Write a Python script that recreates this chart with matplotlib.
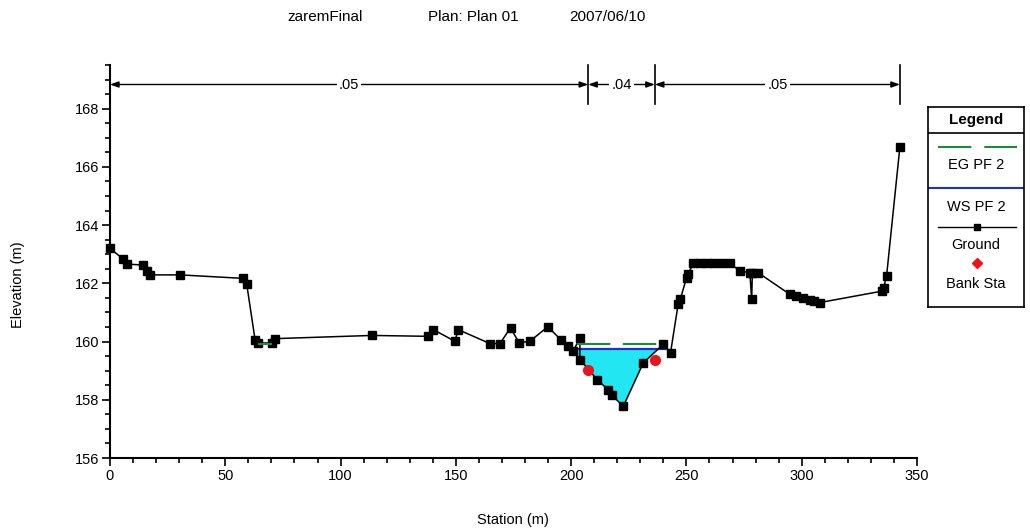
import numpy as np
import matplotlib.pyplot as plt
from matplotlib.ticker import MultipleLocator

plt.rcParams['font.family'] = ['Liberation Sans', 'DejaVu Sans']

# Ground profile (station m, elevation m)
station = [0, 5.8, 7.2, 14.4, 15.9, 17.3, 30.4, 57.8, 59.3, 62.9, 64.3, 70.1, 71.6,
           113.5, 138.0, 140.2, 149.6, 151.0, 164.8, 169.1, 173.7, 177.4, 182.1,
           189.9, 195.4, 198.7, 200.9, 203.8, 203.8, 211.3, 216.1, 217.6, 222.6,
           231.3, 239.9, 243.1, 246.4, 247.3, 250.1, 250.8, 252.9, 256.0, 259.0,
           262.0, 265.5, 268.8, 273.2, 277.5, 278.3, 278.6, 281.0, 294.9, 297.5,
           300.5, 303.5, 305.5, 307.9, 334.7, 335.5, 336.8, 342.6]
elevation = [163.2, 162.83, 162.66, 162.63, 162.42, 162.29, 162.29, 162.17, 161.97,
             160.07, 159.95, 159.95, 160.10,
             160.21, 160.18, 160.41, 160.01, 160.41, 159.93, 159.93, 160.47, 159.96,
             160.01, 160.51, 160.07, 159.84, 159.67, 160.13, 159.38, 158.69, 158.34,
             158.17, 157.77, 159.27, 159.90, 159.61, 161.28, 161.45, 162.20, 162.31,
             162.69, 162.69, 162.69, 162.69, 162.69, 162.69, 162.42, 162.37, 161.45,
             162.37, 162.37, 161.62, 161.55, 161.48, 161.42, 161.38, 161.34, 161.73,
             161.83, 162.25, 166.7]

# Bank stations
bank_sta = [207.4, 236.3]
bank_elev = [159.03, 159.36]

# Water surface / energy grade (PF 2)
ws_elev = 159.75
eg_elev = 159.93
eg_reaches = [(64.3, 70.1), (202.4, 239.6)]

# Manning's n regions
n_bounds = [0, 207.4, 236.3, 342.6]
n_values = ['.05', '.04', '.05']

station = np.array(station)
elevation = np.array(elevation)


def crossings(x, y, level):
    out = []
    for i in range(len(x) - 1):
        a, b = y[i] - level, y[i + 1] - level
        if a * b < 0:
            out.append(x[i] + (x[i + 1] - x[i]) * a / (a - b))
    return out


fig = plt.figure(figsize=(10.30, 5.31), dpi=100)
ax = fig.add_axes([110 / 1030, 1 - 458 / 531, 807 / 1030, 393 / 531])

# channel water
sel = (station > 197) & (station < 244) & (elevation < 160.0)
cs, ce = station[sel], elevation[sel]
ax.fill_between(cs, ce, ws_elev, where=ce <= ws_elev, interpolate=True,
                color='#22e6f2', lw=0, zorder=1)
cx = crossings(cs, ce, ws_elev)
ax.plot([cx[0], cx[-1]], [ws_elev, ws_elev], color='#2030c0', lw=1.6, zorder=2)
for a, b in eg_reaches:
    ax.plot([a, b], [eg_elev, eg_elev], color='#1e8a3c', lw=1.5,
            ls=(0, (16, 6)), zorder=3.5)

ax.plot(station, elevation, color='black', lw=1.1, marker='s', ms=6, zorder=3,
        clip_on=False)
ax.plot(bank_sta, bank_elev, ls='none', marker='o', ms=7, color='#e8141e', zorder=4)

ax.set_xlim(0, 350)
ax.set_ylim(156, 169.5)
ax.xaxis.set_major_locator(MultipleLocator(50))
ax.xaxis.set_minor_locator(MultipleLocator(10))
ax.yaxis.set_minor_locator(MultipleLocator(0.5))
ax.set_yticks(np.arange(156, 169, 2))
ax.tick_params(which='major', direction='out', length=6, width=1.2, labelsize=10.5, pad=2)
ax.tick_params(which='minor', direction='out', length=3.5, width=1.2)
for s in ['top', 'right']:
    ax.spines[s].set_visible(False)
for s in ['left', 'bottom']:
    ax.spines[s].set_linewidth(1.5)

# n value annotation band
ya = 168.83
for b in n_bounds:
    ax.plot([b, b], [168.15, 169.5], color='black', lw=1.2, clip_on=False)
for i, lab in enumerate(n_values):
    a, b = n_bounds[i], n_bounds[i + 1]
    ax.annotate('', xy=(a, ya), xytext=(b, ya),
                arrowprops=dict(arrowstyle='<|-|>,head_length=0.5,head_width=0.18',
                                color='black', lw=1, shrinkA=0, shrinkB=0),
                annotation_clip=False)
    ax.text((a + b) / 2, ya, lab, ha='center', va='center', fontsize=10.5,
            bbox=dict(facecolor='white', edgecolor='none', pad=1.5), zorder=5)

fig.text(325 / 1030, 1 - 17 / 531, 'zaremFinal', ha='center', va='center', fontsize=11)
fig.text(473 / 1030, 1 - 17 / 531, 'Plan: Plan 01', ha='center', va='center', fontsize=11)
fig.text(607 / 1030, 1 - 17 / 531, '2007/06/10', ha='center', va='center', fontsize=11)
fig.text(18 / 1030, 1 - 285 / 531, 'Elevation (m)', rotation=90, ha='center',
         va='center', fontsize=10.5)
fig.text(513 / 1030, 1 - 520 / 531, 'Station (m)', ha='center', va='center', fontsize=10.5)

# legend box
lg = fig.add_axes([928 / 1030, 1 - 307 / 531, 96 / 1030, 200 / 531])
lg.set_xlim(928, 1024)
lg.set_ylim(307, 107)
lg.set_xticks([])
lg.set_yticks([])
for s in lg.spines.values():
    s.set_linewidth(1.2)
lg.axhline(133, color='black', lw=1.2)
lg.text(976, 120, 'Legend', ha='center', va='center', fontsize=11, fontweight='bold')
lg.plot([938, 1017], [147, 147], color='#1e8a3c', lw=1.5, ls=(0, (16, 6.2)))
lg.text(976, 165, 'EG PF 2', ha='center', va='center', fontsize=10.5)
lg.plot([928, 1024], [188, 188], color='#2030c0', lw=1.5)
lg.text(976, 207, 'WS PF 2', ha='center', va='center', fontsize=10.5)
lg.plot([938, 1016], [227, 227], color='black', lw=1)
lg.plot([977], [227], marker='s', ms=5, color='black')
lg.text(976, 245, 'Ground', ha='center', va='center', fontsize=10.5)
lg.plot([977], [263], marker='D', ms=5, color='#e8141e')
lg.text(976, 284, 'Bank Sta', ha='center', va='center', fontsize=10.5)

fig.savefig('out.png', dpi=100)
